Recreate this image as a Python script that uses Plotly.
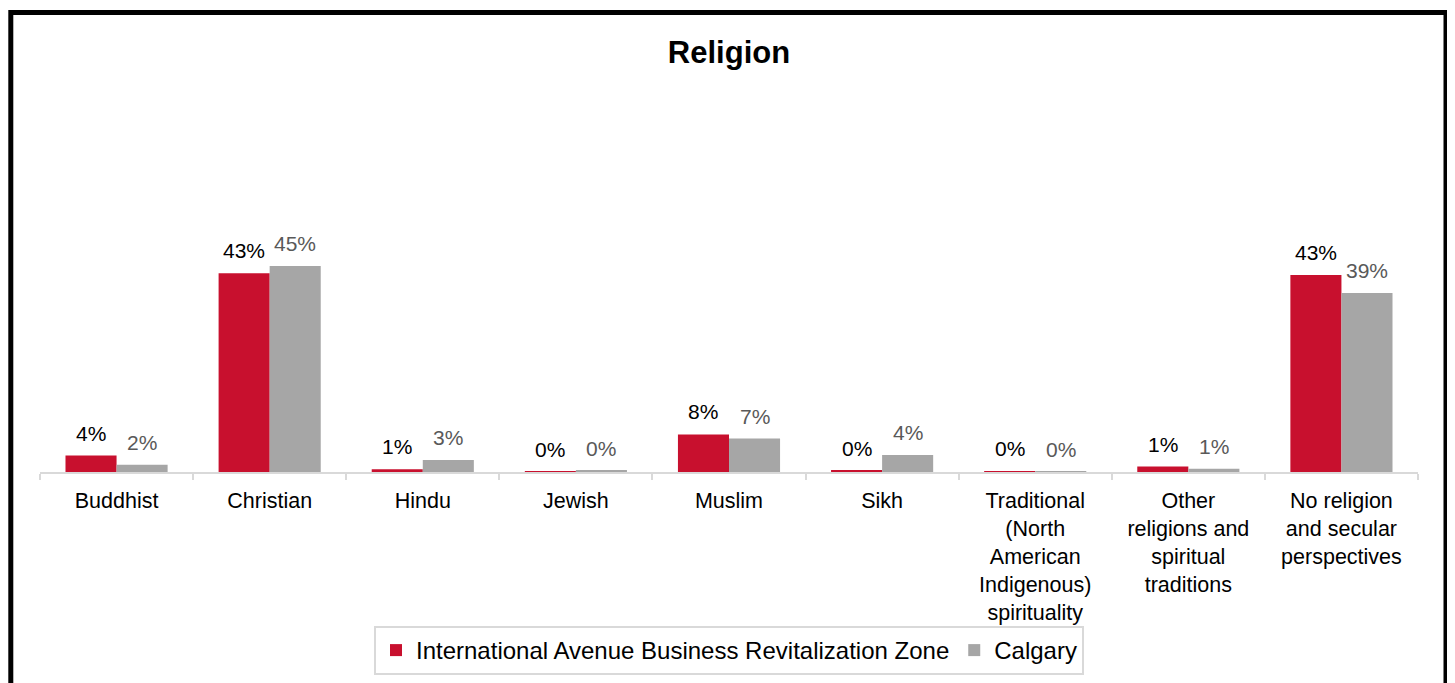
import plotly.graph_objects as go

categories = [
    "Buddhist",
    "Christian",
    "Hindu",
    "Jewish",
    "Muslim",
    "Sikh",
    "Traditional<br>(North<br>American<br>Indigenous)<br>spirituality",
    "Other<br>religions and<br>spiritual<br>traditions",
    "No religion<br>and secular<br>perspectives",
]
iabrz = [0.036, 0.434, 0.006, 0.001, 0.082, 0.003, 0.002, 0.012, 0.430]
calgary = [0.016, 0.450, 0.026, 0.003, 0.073, 0.037, 0.001, 0.007, 0.391]

series_names = ["International Avenue Business Revitalization Zone", "Calgary"]
series_colors = ["#C8102E", "#A6A6A6"]
label_colors = ["#000000", "#595959"]

# page body has an 8px margin; figure sized to fit the window exactly
OFF = 8
W, H = 1455 - OFF, 683 - OFF
ML, MR, MT, MB = 40 - OFF, 37, 243 - OFF, 683 - 472
PW = W - ML - MR
PH = H - MT - MB

def px_to_paper_x(px):
    return (px - OFF - ML) / PW

def px_to_paper_y(py):
    return (H - MB - (py - OFF)) / PH

FONT = "Liberation Sans, Arial, sans-serif"
BARGAP = 0.333
bar_px = PW / len(categories) * (1 - BARGAP) / 2

fig = go.Figure()
all_series = [iabrz, calgary]
for name, vals, col in zip(series_names, all_series, series_colors):
    fig.add_trace(go.Bar(
        name=name, x=categories, y=vals,
        marker=dict(color=col, line=dict(width=0)),
        hoverinfo="x+y", cliponaxis=False,
    ))

annotations = []
for s, (vals, lc) in enumerate(zip(all_series, label_colors)):
    shift = (s - 0.5) * bar_px
    for cat, v in zip(categories, vals):
        annotations.append(dict(
            x=cat, y=v, xref="x", yref="y", text="{:.0%}".format(v),
            showarrow=False, xanchor="center", yanchor="bottom",
            xshift=shift, yshift=9,
            font=dict(size=21, color=lc, family=FONT),
        ))

fig.update_layout(
    width=W, height=H,
    margin=dict(l=ML, r=MR, t=MT, b=MB, autoexpand=False),
    paper_bgcolor="white", plot_bgcolor="white",
    font=dict(family=FONT, color="#000000", size=22),
    barmode="group", bargap=BARGAP, bargroupgap=0,
    title=dict(text="<b>Religion</b>", x=0.5, xanchor="center", xref="paper",
               y=1 - (52 - OFF) / H, yanchor="middle", yref="container",
               font=dict(size=31, color="#000000")),
    showlegend=True,
    legend=dict(orientation="h", x=0.5, xanchor="center", xref="paper",
                y=px_to_paper_y(626), yanchor="top", yref="paper",
                bordercolor="#D9D9D9", borderwidth=2, bgcolor="white",
                font=dict(size=24, color="#000000"), traceorder="normal"),
    xaxis=dict(showline=True, linecolor="#D9D9D9", linewidth=2,
               ticks="outside", tickson="boundaries", ticklen=6, tickcolor="#D9D9D9", tickwidth=2,
               tickangle=0, tickfont=dict(size=21.5, color="#000000"), showgrid=False,
               ticklabelstandoff=8, automargin=False, fixedrange=True),
    yaxis=dict(range=[0, 0.5], visible=False, showgrid=False, zeroline=False,
               automargin=False, fixedrange=True),
    annotations=annotations,
    shapes=[dict(type="rect", xref="paper", yref="paper",
                 x0=px_to_paper_x(10.8), x1=px_to_paper_x(1446),
                 y0=px_to_paper_y(12.5), y1=px_to_paper_y(760),
                 line=dict(color="#000000", width=5), fillcolor="rgba(0,0,0,0)", layer="above")],
)

fig.write_html("out.html")
